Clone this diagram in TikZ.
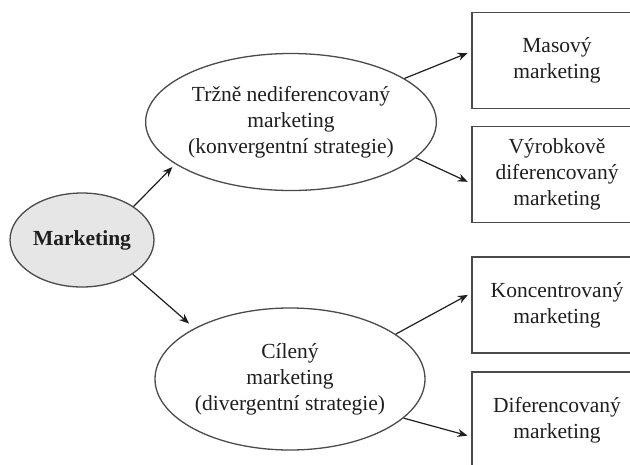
\documentclass[tikz,border=0pt]{standalone}
\usepackage{fontspec}
\setmainfont{Liberation Serif}
\usepackage{xcolor}
\usepackage{tikz}
\usetikzlibrary{arrows.meta,positioning,shapes.geometric}
\definecolor{cInk}{HTML}{1E1E1E}
\definecolor{cLine}{HTML}{4A4A4A}
\definecolor{cFill}{HTML}{E6E6E6}
\tikzset{
  oval/.style={ellipse,draw=cLine,fill=#1,line width=1.3pt,align=center,inner sep=0pt,text=cInk,
    font=\fontsize{21.5}{26}\selectfont},
  oval/.default=white,
  rbox/.style={draw=cLine,line width=1.3pt,align=center,inner sep=0pt,text=cInk,
    minimum width=170pt,minimum height=96pt,font=\fontsize{21.5}{26}\selectfont},
  arr/.style={-{Stealth[length=10pt,width=8pt]},line width=1.2pt,color=cInk},
}

\begin{document}
\begin{tikzpicture}[x=1pt,y=-1pt]
  \useasboundingbox (0,0) rectangle (630,464);
  \clip (0,0) rectangle (630,464);
  % ellipses
  \node[oval=cFill,minimum width=144pt,minimum height=94pt,font=\fontsize{21.5}{26}\selectfont\bfseries] (mkt) at (82,240) {Marketing};
  \node[oval,minimum width=268pt,minimum height=137pt] (undif) at (291,122) {Tržně nediferencovaný\\marketing\\(konvergentní strategie)};
  \node[oval,minimum width=270pt,minimum height=142pt] (cil) at (290,379) {Cílený\\marketing\\(divergentní strategie)};
  % boxes on the right
  \node[rbox] (mas) at (557,60.5) {Masový\\marketing};
  \node[rbox] (vyr) at (557,174.5) {Výrobkově\\diferencovaný\\marketing};
  \node[rbox] (konc) at (557,305) {Koncentrovaný\\marketing};
  \node[rbox] (dif) at (557,420) {Diferencovaný\\marketing};
  % arrows
  \draw[arr,shorten >=4pt] (mkt.33) -- (undif.200);
  \draw[arr,shorten >=7pt] (mkt.-34) -- (cil.152);
  \draw[arr,shorten >=4pt] (undif.21) -- (mas.174);
  \draw[arr,shorten >=4pt] (undif.-16) -- (vyr.186);
  \draw[arr,shorten >=4pt] (cil.23) -- (konc.172);
  \draw[arr,shorten >=4pt] (cil.-19) -- (dif.191);
\end{tikzpicture}
\end{document}
